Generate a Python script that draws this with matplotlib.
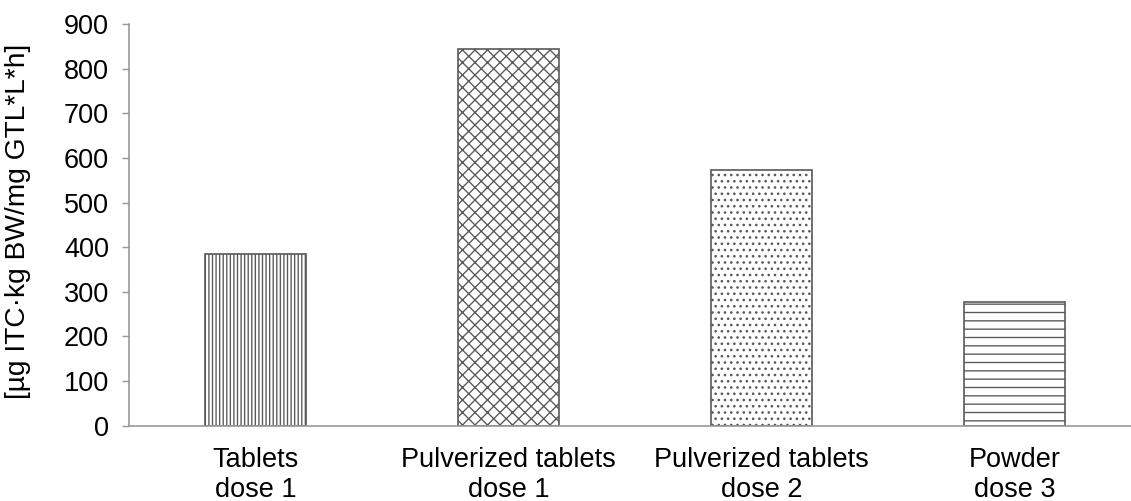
import matplotlib
matplotlib.use("Agg")
import matplotlib.pyplot as plt

plt.rcParams["font.family"] = ["Liberation Sans", "DejaVu Sans"]
plt.rcParams["hatch.linewidth"] = 0.65

categories = ["Tablets\ndose 1", "Pulverized tablets\ndose 1",
              "Pulverized tablets\ndose 2", "Powder\ndose 3"]
values = [385, 844, 573, 277]
hatches = ["|||||||", "xxxx", "....", "---"]
yticks = [0, 100, 200, 300, 400, 500, 600, 700, 800, 900]
ylabel = "[µg ITC·kg BW/mg GTL*L*h]"

INK = "#595959"
AXIS = "#999999"

# dpi 150 so the hatch tile (1 inch) is 150 px -> closer to the reference density
fig = plt.figure(figsize=(1131 / 150, 501 / 150), dpi=150)
ax = fig.add_axes([129 / 1131, 75.3 / 501, 1012 / 1131, 401.7 / 501])

x = range(len(values))
for xi, v, h in zip(x, values, hatches):
    ax.bar(xi, v, width=0.4, color="white", edgecolor=INK, hatch=h,
           linewidth=0.8, zorder=2)

ax.set_xlim(-0.5, 3.5)
ax.set_ylim(0, 900)
ax.set_yticks(yticks)
ax.set_xticks(list(x))
ax.set_xticklabels(categories, fontsize=13, linespacing=1.2)
ax.tick_params(axis="x", length=0, pad=10)
ax.tick_params(axis="y", length=3.5, width=0.7, color=AXIS, pad=6, labelsize=13)

for side in ("top", "right"):
    ax.spines[side].set_visible(False)
for side in ("left", "bottom"):
    ax.spines[side].set_color(AXIS)
    ax.spines[side].set_linewidth(0.8)

fig.text(18 / 1131, 1 - 221 / 501, ylabel, rotation=90, ha="center",
         va="center", fontsize=13.5)

fig.savefig("out.png", dpi=150)
plt.close(fig)
